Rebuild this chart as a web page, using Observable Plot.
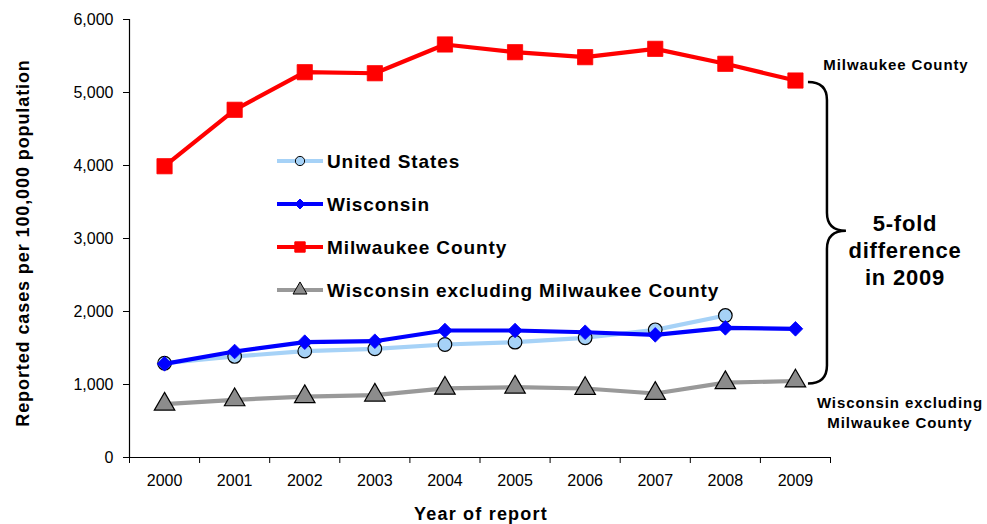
<!DOCTYPE html>
<html>
<head>
<meta charset="utf-8">
<script src="https://cdn.jsdelivr.net/npm/d3@7"></script>
<script src="https://cdn.jsdelivr.net/npm/@observablehq/plot@0.6"></script>
<style>
  html, body { margin: 0; padding: 0; background: #fff; }
  #chart { position: relative; width: 987px; height: 524px; overflow: hidden; }
  svg { font-family: "Liberation Sans", Arial, sans-serif; }
</style>
</head>
<body>
<div id="chart"></div>
<script>
const years = [2000, 2001, 2002, 2003, 2004, 2005, 2006, 2007, 2008, 2009];
const usYears = [2000, 2001, 2002, 2003, 2004, 2005, 2006, 2007, 2008];
const unitedStates = [1292, 1384, 1457, 1489, 1548, 1580, 1640, 1749, 1945];
const wisconsin = [1283, 1452, 1580, 1593, 1740, 1740, 1716, 1680, 1776, 1763];
const milwaukee = [3990, 4763, 5278, 5264, 5658, 5552, 5484, 5598, 5393, 5164];
const wiExMilwaukee = [730, 790, 833, 854, 948, 963, 945, 877, 1025, 1048];
const yTicks = [0, 1000, 2000, 3000, 4000, 5000, 6000];

const seriesNames = ["United States", "Wisconsin", "Milwaukee County", "Wisconsin excluding Milwaukee County"];
const lineColors = ["#a6d2f7", "#0000ff", "#ff0000", "#999999"];
const markFills = ["#a6d2f7", "#0000ff", "#ff0000", "#8c8c8c"];
const markStrokes = ["#000000", "#0000ff", "#ff0000", "#000000"];
const symbols = ["circle", "diamond2", "square", "triangle"];
const symbolR = [6.8, 6.6, 8.6, 7.6];

const rows = (ys, vs, s) => ys.map((y, i) => ({year: y, value: vs[i], s}));
const series = [
  rows(usYears, unitedStates, 0),
  rows(years, wisconsin, 1),
  rows(years, milwaukee, 2),
  rows(years, wiExMilwaukee, 3)
];

const boundaries = d3.range(years[0] - 0.5, years[years.length - 1] + 1, 1);

const drawOrder = [3, 0, 1, 2];
const marks = [
  Plot.ruleY([0], {stroke: "#000", strokeWidth: 1.2}),
  Plot.ruleX([boundaries[0]], {stroke: "#000", strokeWidth: 1.2}),
  Plot.axisY({ticks: yTicks, tickFormat: d3.format(","), tickSize: 6, tickPadding: 10, fontSize: 16, label: null, stroke: "#000"}),
  Plot.axisX({ticks: boundaries, tickFormat: () => "", tickSize: 6, label: null}),
  Plot.axisX({ticks: years, tickFormat: d => String(d), tickSize: 0, tickPadding: 17, fontSize: 16, label: null})
];
for (const k of drawOrder) {
  marks.push(Plot.line(series[k], {x: "year", y: "value", stroke: lineColors[k], strokeWidth: 4.2, curve: "linear"}));
  marks.push(Plot.dot(series[k], {x: "year", y: "value", symbol: () => symbols[k], r: symbolR[k], fill: markFills[k], stroke: markStrokes[k], strokeWidth: k === 0 || k === 3 ? 1.2 : 0.8}));
}

const plot = Plot.plot({
  width: 987,
  height: 524,
  marginLeft: 129,
  marginRight: 157,
  marginTop: 19,
  marginBottom: 67,
  x: {type: "linear", domain: [boundaries[0], boundaries[boundaries.length - 1]]},
  y: {domain: [0, 6000]},
  style: {fontFamily: "'Liberation Sans', Arial, sans-serif", color: "#000", background: "#fff"},
  marks
});
document.getElementById("chart").appendChild(plot);

const sx = plot.scale("x"), sy = plot.scale("y");
const svg = d3.select(plot);
const g = svg.append("g").attr("font-family", "'Liberation Sans', Arial, sans-serif").attr("font-weight", "bold").attr("fill", "#000");

// axis titles
g.append("text").attr("x", 481).attr("y", 520).attr("text-anchor", "middle").attr("font-size", 18).attr("letter-spacing", 1.2).text("Year of report");
g.append("text").attr("transform", `translate(29,${(sy.apply(0) + sy.apply(6000)) / 2 + 5}) rotate(-90)`).attr("text-anchor", "middle").attr("font-size", 18).attr("letter-spacing", 0.9).text("Reported cases per 100,000 population");

// legend
const legX = 277, legY0 = 161, legDy = 43;
seriesNames.forEach((name, k) => {
  const y = legY0 + k * legDy;
  g.append("line").attr("x1", legX).attr("x2", legX + 46).attr("y1", y).attr("y2", y).attr("stroke", lineColors[k]).attr("stroke-width", 4.2);
  const symType = {circle: d3.symbolCircle, diamond2: d3.symbolDiamond2, square: d3.symbolSquare, triangle: d3.symbolTriangle}[symbols[k]];
  const scale = 0.68;
  const size = Math.PI * (symbolR[k] * scale) ** 2;
  g.append("path").attr("d", d3.symbol(symType, size)()).attr("transform", `translate(${legX + 23},${y})`)
    .attr("fill", markFills[k]).attr("stroke", markStrokes[k]).attr("stroke-width", 1);
  g.append("text").attr("x", legX + 50).attr("y", y + 7).attr("text-anchor", "start").attr("font-size", 19).attr("letter-spacing", 0.9).text(name);
});

// brace between 2009 values
const bx0 = sx.apply(2009) + 13;
const bx1 = bx0 + 19;
const tipX = bx1 + 19;
const by0 = sy.apply(milwaukee[milwaukee.length - 1]) + 2;
const by1 = sy.apply(wiExMilwaukee[wiExMilwaukee.length - 1]) + 3;
const bmid = (by0 + by1) / 2 - 2;
const r = 18;
const bracePath = `M${bx0},${by0} Q${bx1},${by0} ${bx1},${by0 + r} L${bx1},${bmid - r} Q${bx1},${bmid} ${tipX},${bmid} Q${bx1},${bmid} ${bx1},${bmid + r} L${bx1},${by1 - r} Q${bx1},${by1} ${bx0},${by1}`;
g.append("path").attr("d", bracePath).attr("fill", "none").attr("stroke", "#000").attr("stroke-width", 2.5);

// annotations
g.append("text").attr("x", 896).attr("y", 70).attr("text-anchor", "middle").attr("font-size", 15).attr("letter-spacing", 0.9).text("Milwaukee County");
["5-fold", "difference", "in 2009"].forEach((t, i) => {
  g.append("text").attr("x", 905).attr("y", 231 + i * 27).attr("text-anchor", "middle").attr("font-size", 22).attr("letter-spacing", 0.8).text(t);
});
g.append("text").attr("x", 900).attr("y", 408).attr("text-anchor", "middle").attr("font-size", 15).attr("letter-spacing", 0.9).text("Wisconsin excluding");
g.append("text").attr("x", 900).attr("y", 428).attr("text-anchor", "middle").attr("font-size", 15).attr("letter-spacing", 0.9).text("Milwaukee County");
</script>
</body>
</html>
